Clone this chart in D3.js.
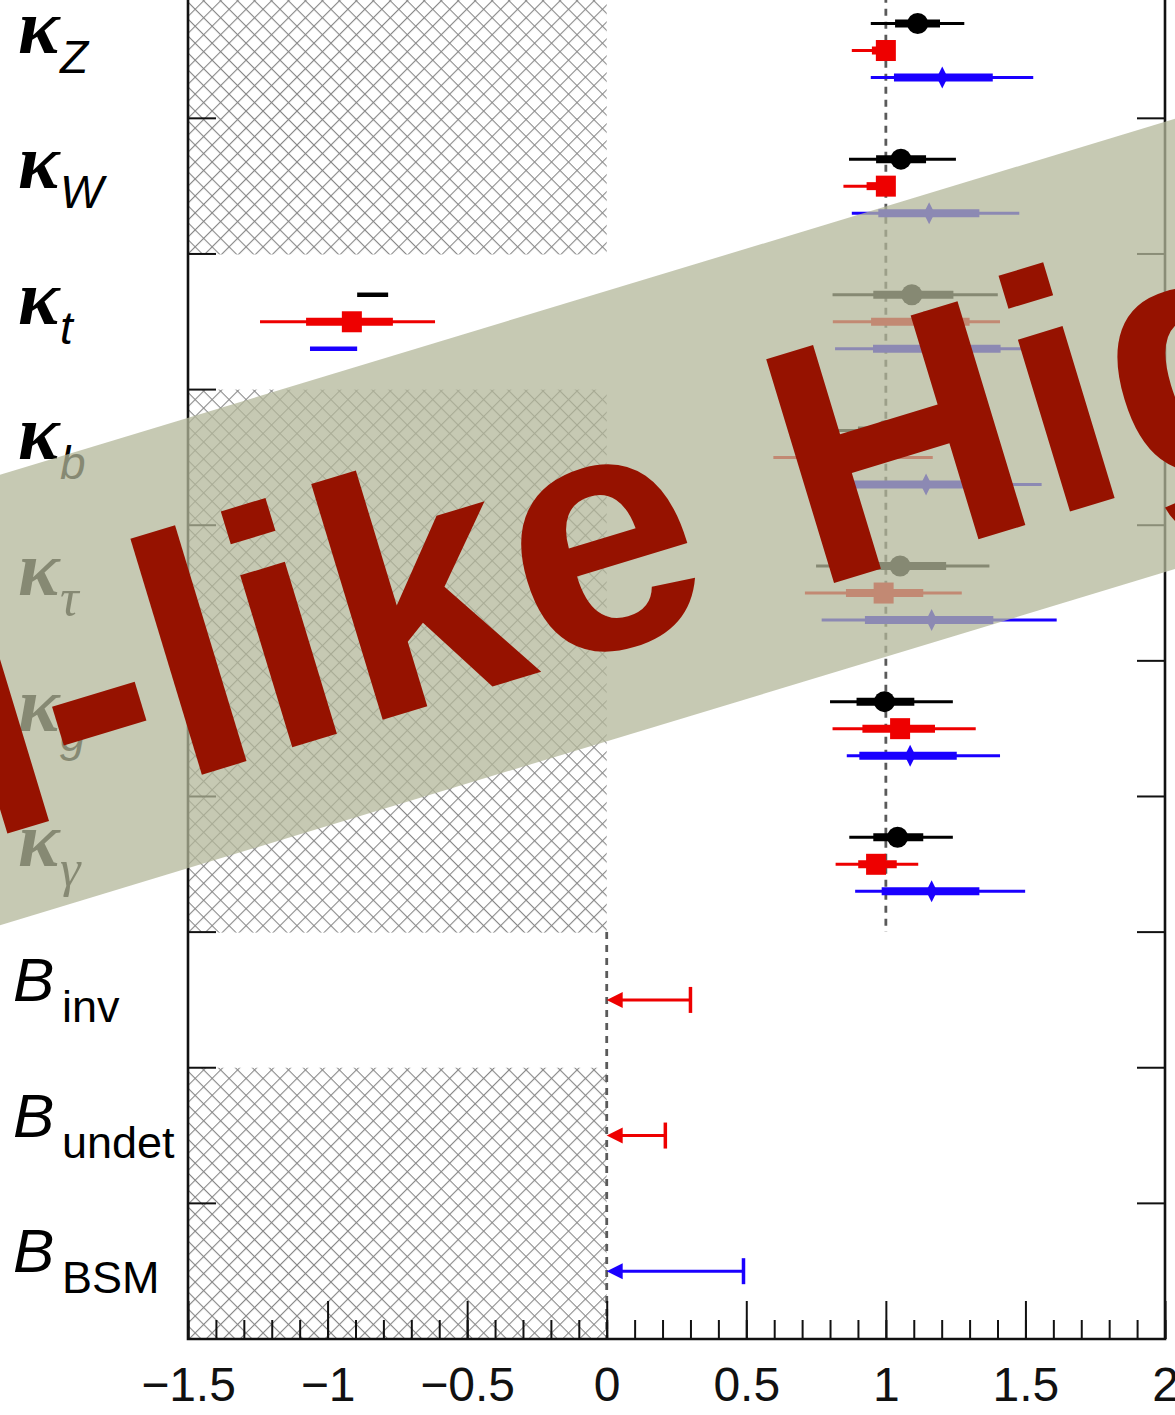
<!DOCTYPE html>
<html>
<head>
<meta charset="utf-8">
<script src="https://cdn.jsdelivr.net/npm/d3@7"></script>
<style>
  html, body { margin: 0; padding: 0; background: #fff; }
  svg { display: block; }
</style>
</head>
<body>
<div id="chart"></div>
<script>
// ---- parameters (rows, top to bottom) ----
const params = ["kZ", "kW", "kt", "kb", "ktau", "kg", "kgamma", "Binv", "Bundet", "BBSM"];
const labelBase = ["κ", "κ", "κ", "κ", "κ", "κ", "κ", "B", "B", "B"];
const labelSub  = ["Z", "W", "t", "b", "τ", "g", "γ", "inv", "undet", "BSM"];
// rows whose unphysical negative range is hatched
const hatched   = [true, true, false, true, true, true, true, false, true, true];
// reference value drawn as dashed line (SM expectation / zero)
const refValue  = [1, 1, 1, 1, 1, 1, 1, 0, 0, 0];

// ---- x axis ticks ----
const xMajor = [-1.5, -1, -0.5, 0, 0.5, 1, 1.5, 2];
const xMajorLabels = ["−1.5", "−1", "−0.5", "0", "0.5", "1", "1.5", "2"];
const xMinor = d3.range(-15, 21).map(d => d / 10);

// ---- fit results: best value, 1σ interval, 2σ interval (null = not fitted) ----
const fits = ["fitA", "fitB", "fitC"];
const fitColor = { fitA: "#000000", fitB: "#ee0000", fitC: "#1a00ff" };

const fitA_best = [1.114, 1.054, 1.093, 1.00, 1.051, 0.995, 1.042, null, null, null];
const fitA_lo1  = [1.033, 0.965, 0.955, 0.90, 0.870, 0.895, 0.955, null, null, null];
const fitA_hi1  = [1.194, 1.144, 1.242, 1.10, 1.216, 1.102, 1.134, null, null, null];
const fitA_lo2  = [0.946, 0.868, 0.809, 0.80, 0.750, 0.800, 0.869, null, null, null];
const fitA_hi2  = [1.281, 1.251, 1.401, 1.22, 1.371, 1.240, 1.240, null, null, null];

const fitB_best = [1.000, 1.000, 1.170, 0.820, 0.992, 1.051, 0.965, null, null, null];
const fitB_lo1  = [0.950, 0.931, 0.947, 0.720, 0.857, 0.916, 0.901, null, null, null];
const fitB_hi1  = [1.000, 1.000, 1.300, 0.900, 1.134, 1.176, 1.039, null, null, null];
const fitB_lo2  = [0.878, 0.848, 0.810, 0.597, 0.710, 0.809, 0.820, null, null, null];
const fitB_hi2  = [1.000, 1.000, 1.409, 1.168, 1.272, 1.322, 1.116, null, null, null];

const fitC_best = [1.202, 1.155, 1.180, 1.144, 1.164, 1.087, 1.164, null, null, null];
const fitC_lo1  = [1.029, 0.973, 0.954, 0.880, 0.925, 0.905, 0.985, null, null, null];
const fitC_hi1  = [1.383, 1.335, 1.411, 1.277, 1.385, 1.254, 1.335, null, null, null];
const fitC_lo2  = [0.946, 0.878, 0.818, 0.780, 0.770, 0.860, 0.890, null, null, null];
const fitC_hi2  = [1.528, 1.478, 1.505, 1.558, 1.612, 1.409, 1.499, null, null, null];

// second (negative κt) minimum
const ktNeg_fit   = ["fitA", "fitB", "fitC"];
const ktNeg_best  = [null, -0.913, null];
const ktNeg_lo1   = [null, -1.077, null];
const ktNeg_hi1   = [null, -0.766, null];
const ktNeg_lo2   = [-0.894, -1.242, -1.063];
const ktNeg_hi2   = [-0.783, -0.615, -0.894];

// 95% CL upper limits on branching ratios
const limitParam = ["Binv", "Bundet", "BBSM"];
const limitFit   = ["fitB", "fitB", "fitC"];
const limitValue = [0.30, 0.21, 0.49];

const bannerText = "SM-like Higgs";

// ---- layout ----
const W = 1175, H = 1415;
const plotLeft = 188, plotRight = 1165, plotTop = -17.3, plotBottom = 1339;

const svg = d3.select("#chart").append("svg")
  .attr("width", W).attr("height", H)
  .attr("viewBox", `0 0 ${W} ${H}`);

const x = d3.scaleLinear().domain([-1.5, 2]).range([plotLeft, plotRight]);
const y = d3.scaleBand().domain(params).range([plotTop, plotBottom]).padding(0);
const off = d3.scalePoint().domain(fits).range([-27, 27]);
const rowC = p => y(p) + y.bandwidth() / 2;

// cross-hatch pattern
const hs = 12;
const defs = svg.append("defs");
const pat = defs.append("pattern")
  .attr("id", "xhatch").attr("patternUnits", "userSpaceOnUse")
  .attr("width", hs).attr("height", hs)
  .attr("patternTransform", "rotate(45)");
pat.append("line").attr("x1", 0).attr("y1", 0).attr("x2", 0).attr("y2", hs)
  .attr("stroke", "#888").attr("stroke-width", 2.2);
pat.append("line").attr("x1", 0).attr("y1", 0).attr("x2", hs).attr("y2", 0)
  .attr("stroke", "#888").attr("stroke-width", 2.2);

// hatched regions (negative values not allowed)
svg.append("g").selectAll("rect")
  .data(params.filter((p, i) => hatched[i]))
  .join("rect")
  .attr("x", x(-1.5)).attr("width", x(0) - x(-1.5))
  .attr("y", p => y(p)).attr("height", y.bandwidth() + 0.5)
  .attr("fill", "url(#xhatch)");

// dashed reference lines
const refG = svg.append("g").attr("stroke", "#5a5a5a").attr("stroke-width", 2.8)
  .attr("stroke-dasharray", "7,6");
[1, 0].forEach(v => {
  const rows = params.filter((p, i) => refValue[i] === v);
  refG.append("line")
    .attr("x1", x(v)).attr("x2", x(v))
    .attr("y1", y(rows[0])).attr("y2", y(rows[rows.length - 1]) + y.bandwidth());
});

// ---- frame and axes ----
const axisG = svg.append("g");
axisG.append("g")
  .attr("transform", `translate(0,${plotBottom})`)
  .call(d3.axisBottom(x).tickValues(xMinor).tickSize(-19).tickFormat(""))
  .call(g => g.select(".domain").remove())
  .call(g => g.selectAll("line").attr("stroke", "#111").attr("stroke-width", 2));
axisG.append("g")
  .attr("transform", `translate(0,${plotBottom})`)
  .call(d3.axisBottom(x).tickValues(xMajor).tickSize(-38).tickPadding(28)
    .tickFormat((d, i) => xMajorLabels[i]))
  .call(g => g.select(".domain").remove())
  .call(g => g.selectAll("line").attr("stroke", "#111").attr("stroke-width", 2))
  .call(g => g.selectAll("text").attr("fill", "#111")
    .style("font-family", "'Liberation Sans', Arial, Helvetica, sans-serif")
    .style("font-size", "48px"));

const rowEdges = params.slice(1).map(p => y(p));
axisG.append("g").selectAll("line.l").data(rowEdges).join("line")
  .attr("x1", plotLeft).attr("x2", plotLeft + 28).attr("y1", d => d).attr("y2", d => d)
  .attr("stroke", "#111").attr("stroke-width", 2);
axisG.append("g").selectAll("line.r").data(rowEdges).join("line")
  .attr("x1", plotRight - 28).attr("x2", plotRight).attr("y1", d => d).attr("y2", d => d)
  .attr("stroke", "#111").attr("stroke-width", 2);
axisG.append("path")
  .attr("d", `M${plotLeft},${plotTop}V${plotBottom}H${plotRight}V${plotTop}`)
  .attr("fill", "none").attr("stroke", "#111").attr("stroke-width", 2.6);

// ---- row labels ----
const labG = svg.append("g");
params.forEach((p, i) => {
  const cy = rowC(p);
  if (labelBase[i] === "κ") {
    labG.append("text").attr("x", 18).attr("y", cy + 2)
      .style("font-family", "'Liberation Serif', 'Times New Roman', serif")
      .style("font-style", "italic").style("font-weight", "bold").style("font-size", "78px")
      .text(labelBase[i]);
    const greek = /[τγ]/.test(labelSub[i]);
    labG.append("text").attr("x", 60).attr("y", cy + 22)
      .style("font-family", greek ? "'Liberation Serif', serif" : "'Liberation Sans', Arial, sans-serif")
      .style("font-style", "italic").style("font-size", greek ? "52px" : "46px")
      .text(labelSub[i]);
  } else {
    labG.append("text").attr("x", 13).attr("y", cy + 1)
      .style("font-family", "'Liberation Sans', Arial, sans-serif")
      .style("font-style", "italic").style("font-size", "62px")
      .text(labelBase[i]);
    labG.append("text").attr("x", 62).attr("y", cy + 22)
      .style("font-family", "'Liberation Sans', Arial, sans-serif")
      .style("font-size", "45px")
      .text(labelSub[i]);
  }
});

// ---- fit results ----
const fitData = {
  fitA: { best: fitA_best, lo1: fitA_lo1, hi1: fitA_hi1, lo2: fitA_lo2, hi2: fitA_hi2 },
  fitB: { best: fitB_best, lo1: fitB_lo1, hi1: fitB_hi1, lo2: fitB_lo2, hi2: fitB_hi2 },
  fitC: { best: fitC_best, lo1: fitC_lo1, hi1: fitC_hi1, lo2: fitC_lo2, hi2: fitC_hi2 }
};

const rows = [];
fits.forEach(f => {
  params.forEach((p, i) => {
    const d = fitData[f];
    if (d.best[i] == null) return;
    rows.push({ fit: f, param: p, best: d.best[i], lo1: d.lo1[i], hi1: d.hi1[i], lo2: d.lo2[i], hi2: d.hi2[i] });
  });
  const k = ktNeg_fit.indexOf(f);
  if (k >= 0) rows.push({ fit: f, param: "kt", best: ktNeg_best[k], lo1: ktNeg_lo1[k], hi1: ktNeg_hi1[k], lo2: ktNeg_lo2[k], hi2: ktNeg_hi2[k], thinW: ktNeg_best[k] == null ? 4.5 : 3 });
});

const markG = svg.append("g");
rows.forEach(r => {
  const cy = rowC(r.param) + off(r.fit);
  const col = fitColor[r.fit];
  const g = markG.append("g");
  if (r.lo2 != null) {
    g.append("line").attr("x1", x(r.lo2)).attr("x2", x(r.hi2)).attr("y1", cy).attr("y2", cy)
      .attr("stroke", col).attr("stroke-width", r.thinW || 3);
  }
  if (r.lo1 != null) {
    g.append("line").attr("x1", x(r.lo1)).attr("x2", x(r.hi1)).attr("y1", cy).attr("y2", cy)
      .attr("stroke", col).attr("stroke-width", 8);
  }
  if (r.best != null) {
    const cx = x(r.best);
    if (r.fit === "fitA") {
      g.append("circle").attr("cx", cx).attr("cy", cy).attr("r", 10.5).attr("fill", col);
    } else if (r.fit === "fitB") {
      g.append("rect").attr("x", cx - 10).attr("y", cy - 10.5).attr("width", 20).attr("height", 21).attr("fill", col);
    } else {
      g.append("path").attr("d", `M${cx},${cy - 11}L${cx + 5.5},${cy}L${cx},${cy + 11}L${cx - 5.5},${cy}Z`).attr("fill", col);
    }
  }
});

// upper limits drawn as arrows pointing to zero, at the row centre
limitParam.forEach((p, i) => {
  const cy = rowC(p);
  const col = fitColor[limitFit[i]];
  const x0 = x(0), x1 = x(limitValue[i]);
  const g = markG.append("g");
  g.append("line").attr("x1", x0 + 10).attr("x2", x1).attr("y1", cy).attr("y2", cy)
    .attr("stroke", col).attr("stroke-width", 3);
  g.append("line").attr("x1", x1).attr("x2", x1).attr("y1", cy - 13).attr("y2", cy + 13)
    .attr("stroke", col).attr("stroke-width", 3.5);
  g.append("path").attr("d", `M${x0},${cy}L${x0 + 16},${cy - 8}L${x0 + 16},${cy + 8}Z`).attr("fill", col);
});

// ---- diagonal banner ----
const band = svg.append("g").attr("transform", "translate(650,503) rotate(-16.86)");
band.append("rect").attr("x", -1400).attr("width", 2800)
  .attr("y", -215.5).attr("height", 431)
  .attr("fill", "rgb(179,183,153)").attr("fill-opacity", 0.75);
band.append("text").attr("x", -40).attr("y", 130)
  .attr("text-anchor", "middle")
  .style("font-family", "'Liberation Sans', Arial, Helvetica, sans-serif")
  .style("font-weight", "bold").style("font-size", "340px")
  .attr("fill", "#961200")
  .text(bannerText);
</script>
</body>
</html>
